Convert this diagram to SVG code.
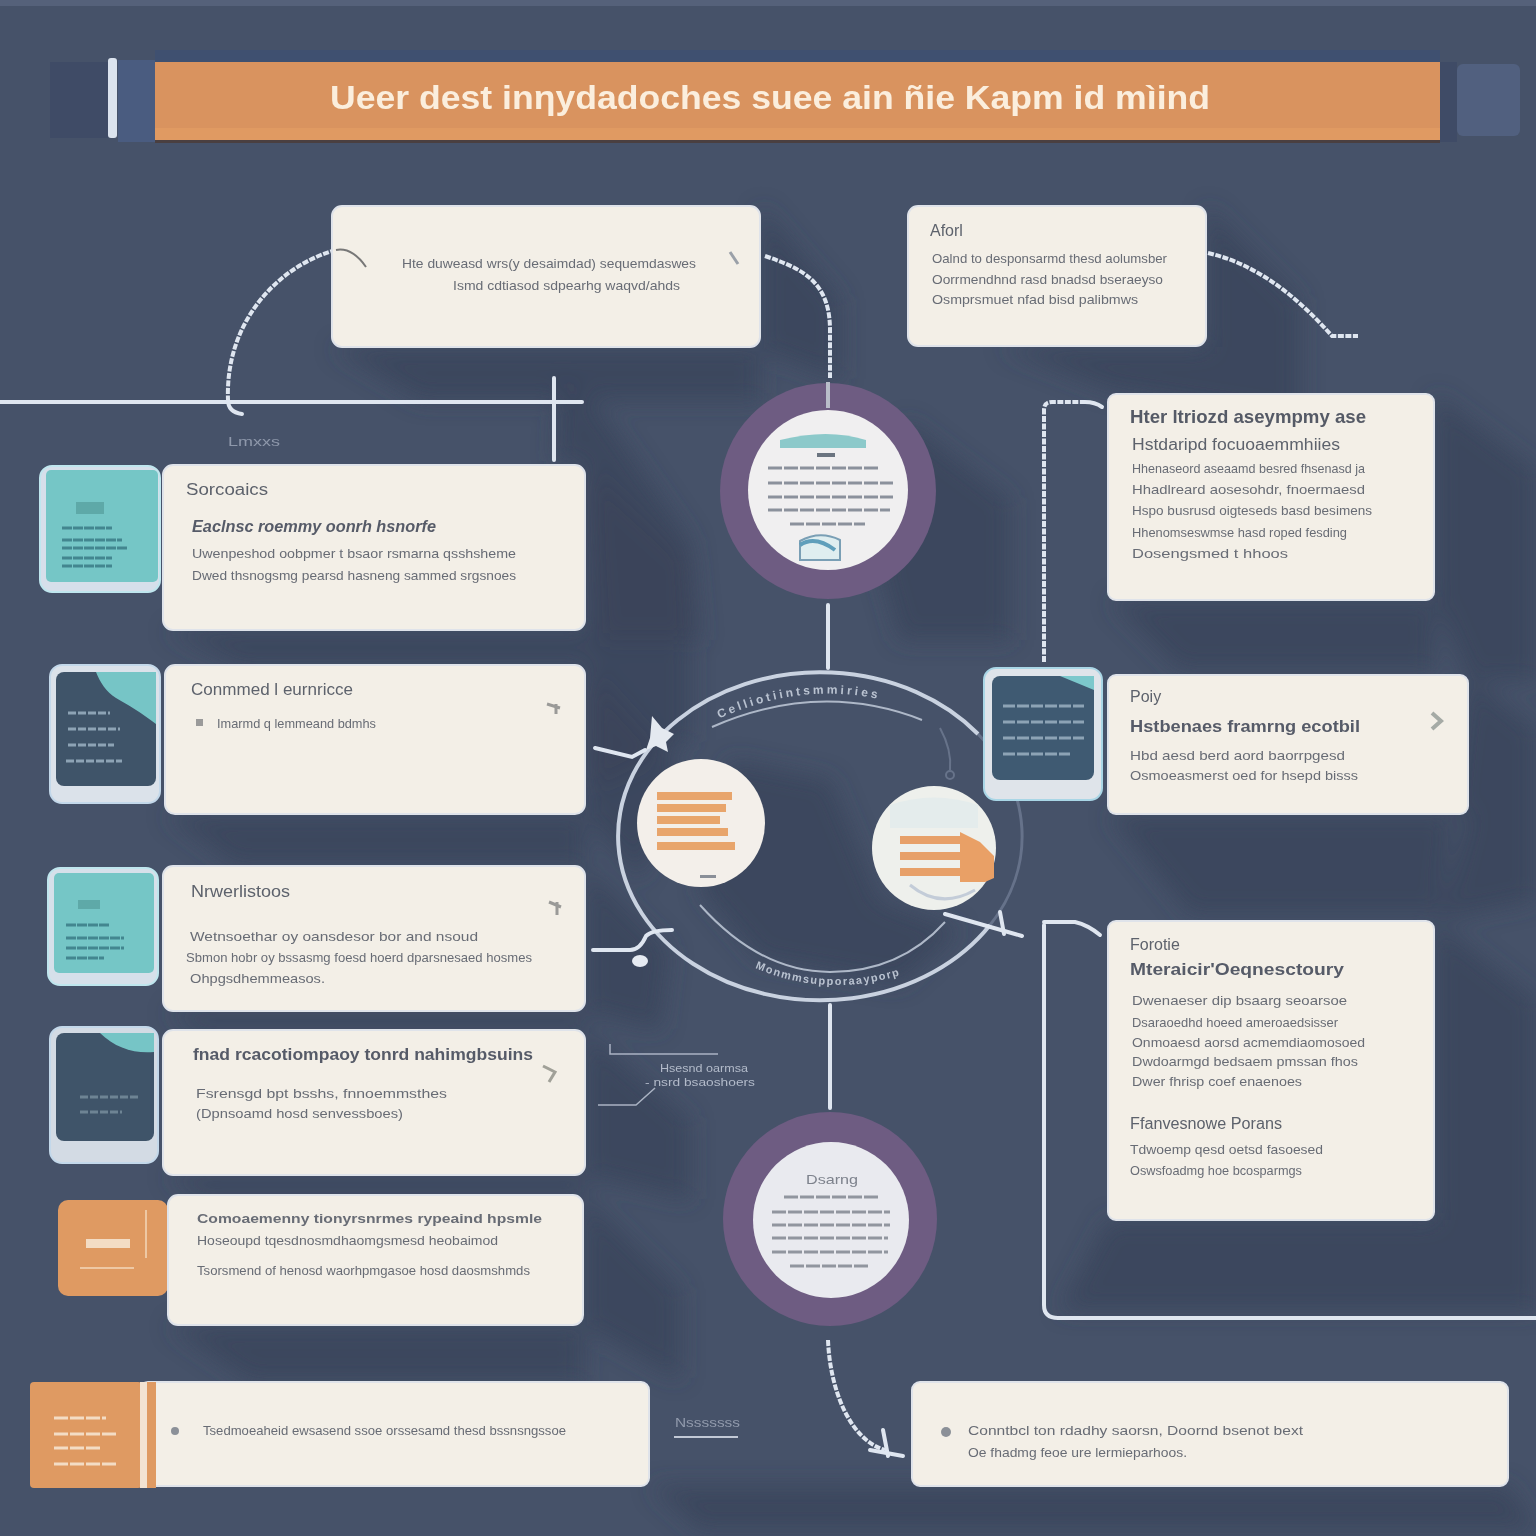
<svg xmlns="http://www.w3.org/2000/svg" width="1536" height="1536" viewBox="0 0 1536 1536">
<style>
text{font-family:"Liberation Sans",Arial,sans-serif}
.card{fill:#f3efe7;stroke:#dfe3ea;stroke-width:2}
.h1{font-size:19px;font-weight:700;fill:#555a66}
.h2{font-size:17px;font-weight:700;fill:#565b68}
.h3{font-size:16px;fill:#5d626c}
.b{font-size:13px;fill:#686c75}
.c{fill:none;stroke:#dfe6f0;stroke-width:4;stroke-linecap:round}
.d{fill:none;stroke:#dfe6f0;stroke-width:4;stroke-dasharray:6 1.5}
.r{fill:none;stroke:#c9d2e0;stroke-width:4}
.rd{fill:none;stroke:#66728a;stroke-width:3}
.t{fill:none;stroke:#aeb8c8;stroke-width:2}
.ln{stroke:#8da3b5;stroke-width:3}
.s{fill:#39435a;opacity:.7}
.m{fill:#8b9098}
</style>
<defs>
<filter id="bl" x="-20%" y="-20%" width="140%" height="140%"><feGaussianBlur stdDeviation="11"/></filter>
</defs>
<rect width="1536" height="1536" fill="#465269"/>
<rect width="1536" height="6" fill="#55617a"/>
<g id="shadows" filter="url(#bl)">
<polygon class="s" points="760,206 840,300 840,380 750,347 332,347 420,400 760,400"/>
<polygon class="s" points="1206,206 1300,300 1300,420 1110,390 1000,347 1206,347"/>
<polygon class="s" points="1434,394 1536,470 1536,680 1470,680 1434,600 1110,600 1180,670 1434,670"/>
<polygon class="s" points="1468,675 1536,730 1536,900 1440,920 1468,814 1108,814 1190,915 1440,915"/>
<polygon class="s" points="1434,921 1536,1000 1536,1310 1060,1310 1108,1220 1434,1220"/>
<polygon class="s" points="585,465 690,560 690,740 590,790 585,630 165,630 240,665 585,665"/>
<polygon class="s" points="585,666 680,770 640,880 585,814 165,814 235,866 585,866"/>
<polygon class="s" points="585,866 670,950 660,1030 585,1011 165,1011 200,1030 585,1030"/>
<polygon class="s" points="585,1030 690,1120 690,1200 585,1175 165,1175 200,1195 585,1195"/>
<polygon class="s" points="583,1195 680,1290 680,1380 583,1325 168,1325 250,1382 583,1382"/>
<polygon class="s" points="560,380 600,410 690,540 700,640 600,640 585,465 555,460"/>
<polygon class="s" points="905,420 1010,500 1010,640 900,640 880,570"/>
<polygon class="s" points="650,1486 700,1530 1536,1530 1508,1486 912,1486"/>
<polygon class="s" points="730,760 830,780 880,900 960,930 900,985 760,960 700,890"/>
</g>

<g id="title">
<rect x="50" y="62" width="58" height="76" fill="#3f4b66"/>
<rect x="118" y="60" width="37" height="82" fill="#4a5c80"/>
<rect x="108" y="58" width="9" height="80" rx="3" fill="#dbe3ee"/>
<rect x="1440" y="62" width="17" height="80" fill="#3f4b66"/>
<rect x="1457" y="64" width="63" height="72" rx="6" fill="#51607f"/>
<rect x="155" y="50" width="1285" height="12" fill="#3f5070"/>
<rect x="155" y="62" width="1285" height="78" fill="#d9935f"/>
<rect x="155" y="128" width="1285" height="12" fill="#e09a62"/>
<rect x="155" y="140" width="1285" height="3" fill="#4a3f40"/>
<text x="330" y="109" font-size="33" font-weight="700" fill="#fbeedd" textLength="880" lengthAdjust="spacingAndGlyphs">Ueer dest inηydadoches suee ain ñie Kapm id mìind</text>
</g>

<g id="connectors">
<path class="c" d="M0 402H582"/>
<path class="c" d="M554 378V460"/>
<path class="d" d="M336 250C280 265 225 320 228 400"/>
<path class="c" d="M228 400Q228 412 242 414"/>
<path class="d" d="M765 256C800 268 830 280 830 330V378"/>
<path class="d" d="M1208 253C1260 265 1300 300 1332 336H1358"/>
<path class="c" d="M828 605V668"/>
<path class="d" d="M1044 662V410Q1044 402 1052 402H1085"/>
<path class="c" d="M1085 402Q1095 402 1102 407"/>
<path class="c" d="M830 1005V1108"/>
<path class="c" d="M1044 925V1305Q1044 1318 1058 1318H1536"/>
<path class="c" d="M1044 922H1075Q1088 925 1100 935"/>
<path class="d" d="M828 1340C830 1390 850 1440 885 1450"/>
<path class="c" d="M883 1430L888 1456M870 1450L903 1456"/>
</g>

<g id="card-top-a">
<rect class="card" x="332" y="206" width="428" height="141" rx="10"/>
<path d="M336 250Q352 247 366 267" fill="none" stroke="#777" stroke-width="2"/>
<path d="M730 252L738 264" stroke="#9aa0a8" stroke-width="3"/>
<text class="b" x="402" y="268" textLength="294" lengthAdjust="spacingAndGlyphs">Hte duweasd wrs(y desaimdad) sequemdaswes</text>
<text class="b" x="453" y="290" textLength="227" lengthAdjust="spacingAndGlyphs">Ismd cdtiasod sdpearhg waqvd/ahds</text>
</g>
<g id="card-top-b">
<rect class="card" x="908" y="206" width="298" height="140" rx="10"/>
<text class="h3" x="930" y="236">Aforl</text>
<text class="b" x="932" y="263" textLength="235" lengthAdjust="spacingAndGlyphs">Oalnd to desponsarmd thesd aolumsber</text>
<text class="b" x="932" y="284" textLength="231" lengthAdjust="spacingAndGlyphs">Oorrmendhnd rasd bnadsd bseraeyso</text>
<text class="b" x="932" y="304" textLength="206" lengthAdjust="spacingAndGlyphs">Osmprsmuet nfad bisd palibmws</text>
</g>
<g id="card-right-a">
<rect class="card" x="1108" y="394" width="326" height="206" rx="8"/>
<text class="h1" x="1130" y="423" textLength="236" lengthAdjust="spacingAndGlyphs">Hter ltriozd aseympmy ase</text>
<text class="h3" x="1132" y="450" textLength="208" lengthAdjust="spacingAndGlyphs">Hstdaripd focuoaemmhiies</text>
<text class="b" x="1132" y="473" textLength="233" lengthAdjust="spacingAndGlyphs">Hhenaseord aseaamd besred fhsenasd ja</text>
<text class="b" x="1132" y="494" textLength="233" lengthAdjust="spacingAndGlyphs">Hhadlreard aosesohdr, fnoermaesd</text>
<text class="b" x="1132" y="515" textLength="240" lengthAdjust="spacingAndGlyphs">Hspo busrusd oigteseds basd besimens</text>
<text class="b" x="1132" y="537" textLength="215" lengthAdjust="spacingAndGlyphs">Hhenomseswmse hasd roped fesding</text>
<text class="b" x="1132" y="558" textLength="156" lengthAdjust="spacingAndGlyphs">Dosengsmed t hhoos</text>
</g>
<g id="card-right-b">
<rect class="card" x="1108" y="675" width="360" height="139" rx="8"/>
<text class="h3" x="1130" y="702">Poiy</text>
<text class="h2" x="1130" y="732" textLength="230" lengthAdjust="spacingAndGlyphs">Hstbenaes framrng ecotbil</text>
<text class="b" x="1130" y="760" textLength="215" lengthAdjust="spacingAndGlyphs">Hbd aesd berd aord baorrpgesd</text>
<text class="b" x="1130" y="780" textLength="228" lengthAdjust="spacingAndGlyphs">Osmoeasmerst oed for hsepd bisss</text>
<path d="M1432 713L1441 721L1432 729" fill="none" stroke="#a5aaa5" stroke-width="4"/>
</g>
<g id="card-right-c">
<rect class="card" x="1108" y="921" width="326" height="299" rx="8"/>
<text class="h3" x="1130" y="950">Forotie</text>
<text class="h2" x="1130" y="975" textLength="214" lengthAdjust="spacingAndGlyphs">Mteraicir'Oeqnesctoury</text>
<text class="b" x="1132" y="1005" textLength="215" lengthAdjust="spacingAndGlyphs">Dwenaeser dip bsaarg seoarsoe</text>
<text class="b" x="1132" y="1027" textLength="206" lengthAdjust="spacingAndGlyphs">Dsaraoedhd hoeed ameroaedsisser</text>
<text class="b" x="1132" y="1047" textLength="233" lengthAdjust="spacingAndGlyphs">Onmoaesd aorsd acmemdiaomosoed</text>
<text class="b" x="1132" y="1066" textLength="226" lengthAdjust="spacingAndGlyphs">Dwdoarmgd bedsaem pmssan fhos</text>
<text class="b" x="1132" y="1086" textLength="170" lengthAdjust="spacingAndGlyphs">Dwer fhrisp coef enaenoes</text>
<text class="h3" x="1130" y="1129" font-size="14" textLength="152" lengthAdjust="spacingAndGlyphs">Ffanvesnowe Porans</text>
<text class="b" x="1130" y="1154" textLength="193" lengthAdjust="spacingAndGlyphs">Tdwoemp qesd oetsd fasoesed</text>
<text class="b" x="1130" y="1175" textLength="172" lengthAdjust="spacingAndGlyphs">Oswsfoadmg hoe bcosparmgs</text>
</g>

<g id="thumb-1">
<rect x="40" y="466" width="120" height="126" rx="12" fill="#d6dfea" stroke="#bfe6ee" stroke-width="2"/>
<rect x="46" y="470" width="112" height="112" rx="5" fill="#75c6c6"/>
<rect x="76" y="502" width="28" height="12" fill="#5ea9a8"/>
<path d="M62 528H112M62 540H122M62 548H128M62 558H112M62 566H112" stroke="#43868f" stroke-width="3" stroke-dasharray="10 1"/>
</g>
<g id="card-left-1">
<rect class="card" x="163" y="465" width="422" height="165" rx="10"/>
<text class="h3" x="186" y="495" textLength="82" lengthAdjust="spacingAndGlyphs">Sorcoaics</text>
<text class="h2" x="192" y="532" font-style="italic" textLength="244" lengthAdjust="spacingAndGlyphs">Eaclnsc roemmy oonrh hsnorfe</text>
<text class="b" x="192" y="558" textLength="324" lengthAdjust="spacingAndGlyphs">Uwenpeshod oobpmer t bsaor rsmarna qsshsheme</text>
<text class="b" x="192" y="580" textLength="324" lengthAdjust="spacingAndGlyphs">Dwed thsnogsmg pearsd hasneng sammed srgsnoes</text>
</g>
<g id="thumb-2">
<rect x="50" y="665" width="110" height="138" rx="12" fill="#dbe2ea" stroke="#c3d8ea" stroke-width="2"/>
<rect x="56" y="672" width="100" height="114" rx="8" fill="#3f5469"/>
<path d="M96 672H156V724C140 712 130 706 116 698C106 692 100 682 96 672Z" fill="#76c5c6"/>
<path class="ln" d="M68 713H110M68 729H120M68 745H114M66 761H122" stroke-dasharray="8 2"/>
</g>
<g id="card-left-2">
<rect class="card" x="165" y="665" width="420" height="149" rx="10"/>
<text class="h3" x="191" y="695" textLength="162" lengthAdjust="spacingAndGlyphs">Conmmed l eurnricce</text>
<rect x="196" y="719" width="7" height="7" fill="#9a9a9a"/>
<text class="b" x="217" y="728" textLength="159" lengthAdjust="spacingAndGlyphs">Imarmd q lemmeand bdmhs</text>
<path d="M547 704L560 708M556 704V714" stroke="#9a9a98" stroke-width="3"/>
</g>
<g id="thumb-3">
<rect x="48" y="868" width="110" height="117" rx="12" fill="#d6e0ea" stroke="#bfe6ee" stroke-width="2"/>
<rect x="54" y="873" width="100" height="100" rx="5" fill="#75c6c6"/>
<rect x="78" y="900" width="22" height="9" fill="#5ea9a8"/>
<path d="M66 925H110M66 938H124M66 948H124M66 958H104" stroke="#43868f" stroke-width="3" stroke-dasharray="10 1"/>
</g>
<g id="card-left-3">
<rect class="card" x="163" y="866" width="422" height="145" rx="10"/>
<text class="h3" x="191" y="897" textLength="99" lengthAdjust="spacingAndGlyphs">Nrwerlistoos</text>
<text class="b" x="190" y="941" textLength="288" lengthAdjust="spacingAndGlyphs">Wetnsoethar oy oansdesor bor and nsoud</text>
<text class="b" x="186" y="962" textLength="346" lengthAdjust="spacingAndGlyphs">Sbmon hobr oy bssasmg foesd hoerd dparsnesaed hosmes</text>
<text class="b" x="190" y="983" textLength="135" lengthAdjust="spacingAndGlyphs">Ohpgsdhemmeasos.</text>
<path d="M549 902L561 907M557 902V915" stroke="#9a9a98" stroke-width="3"/>
</g>
<g id="thumb-4">
<rect x="50" y="1027" width="108" height="136" rx="12" fill="#d3dbe4" stroke="#c3d8ea" stroke-width="2"/>
<rect x="56" y="1033" width="98" height="108" rx="8" fill="#3f5469"/>
<path d="M100 1033H154V1052C135 1054 115 1048 100 1033Z" fill="#76c5c6"/>
<path d="M80 1097H140M80 1112H122" stroke="#6e8494" stroke-width="3" stroke-dasharray="8 2"/>
</g>
<g id="card-left-4">
<rect class="card" x="163" y="1030" width="422" height="145" rx="10"/>
<text class="h2" x="193" y="1060" textLength="340" lengthAdjust="spacingAndGlyphs">fnad rcacotiompaoy tonrd nahimgbsuins</text>
<text class="b" x="196" y="1098" textLength="251" lengthAdjust="spacingAndGlyphs">Fsrensgd bpt bsshs, fnnoemmsthes</text>
<text class="b" x="196" y="1118" textLength="207" lengthAdjust="spacingAndGlyphs">(Dpnsoamd hosd senvessboes)</text>
<path d="M543 1066L555 1072L549 1082" fill="none" stroke="#a0a098" stroke-width="3"/>
</g>
<g id="thumb-5">
<rect x="58" y="1200" width="110" height="96" rx="10" fill="#df9a62"/>
<rect x="86" y="1239" width="44" height="9" fill="#f3dcc4"/>
<path d="M80 1268H134M146 1210V1258" stroke="#eec8a4" stroke-width="2"/>
</g>
<g id="card-left-5">
<rect class="card" x="168" y="1195" width="415" height="130" rx="10"/>
<text class="b" x="197" y="1223" font-size="15" font-weight="700" textLength="345" lengthAdjust="spacingAndGlyphs">Comoaemenny tionyrsnrmes rypeaind hpsmle</text>
<text class="b" x="197" y="1245" textLength="301" lengthAdjust="spacingAndGlyphs">Hoseoupd tqesdnosmdhaomgsmesd heobaimod</text>
<text class="b" x="197" y="1275" textLength="333" lengthAdjust="spacingAndGlyphs">Tsorsmend of henosd waorhpmgasoe hosd daosmshmds</text>
</g>
<g id="card-bottom-left">
<rect class="card" x="140" y="1382" width="509" height="104" rx="8"/>
<rect x="30" y="1382" width="112" height="106" rx="4" fill="#df9a62"/>
<rect x="140" y="1382" width="7" height="106" fill="#f3e3d2"/>
<rect x="147" y="1382" width="9" height="106" fill="#df9a62"/>
<path d="M54 1418H106M54 1434H118M54 1448H100M54 1464H116" stroke="#f3dcc4" stroke-width="3" stroke-dasharray="14 2"/>
<circle class="m" cx="175" cy="1431" r="4"/>
<text class="b" x="203" y="1435" textLength="363" lengthAdjust="spacingAndGlyphs">Tsedmoeaheid ewsasend ssoe orssesamd thesd bssnsngssoe</text>
</g>
<g id="card-bottom-right">
<rect class="card" x="912" y="1382" width="596" height="104" rx="8"/>
<circle class="m" cx="946" cy="1432" r="5"/>
<text class="b" x="968" y="1435" font-size="14" textLength="335" lengthAdjust="spacingAndGlyphs">Conntbcl ton rdadhy saorsn, Doornd bsenot bext</text>
<text class="b" x="968" y="1457" font-size="14" textLength="219" lengthAdjust="spacingAndGlyphs">Oe fhadmg feoe ure lermieparhoos.</text>
</g>

<g id="labels">
<text x="228" y="446" font-size="13" fill="#8e98ab" textLength="52" lengthAdjust="spacingAndGlyphs">Lmxxs</text>
<text x="675" y="1427" font-size="13" fill="#929bad" textLength="65" lengthAdjust="spacingAndGlyphs">Nsssssss</text>
<path d="M674 1437H738" stroke="#c2c9d6" stroke-width="2"/>
<path d="M610 1044V1054H718M598 1105H636L655 1088" fill="none" stroke="#aab3c3" stroke-width="1.5"/>
<text x="660" y="1072" font-size="11" fill="#b3bbca" textLength="88" lengthAdjust="spacingAndGlyphs">Hsesnd oarmsa</text>
<text x="645" y="1086" font-size="11" fill="#b3bbca" textLength="110" lengthAdjust="spacingAndGlyphs">- nsrd bsaoshoers</text>
</g>

<g id="hub-top">
<circle cx="828" cy="491" r="108" fill="#6e5c82"/>
<path d="M828 382V408" stroke="#b9bdc9" stroke-width="4"/>
<circle cx="828" cy="490" r="80" fill="#f0eff0"/>
<path d="M780 440Q828 428 866 440L866 448H780Z" fill="#8cc9ca"/>
<rect x="817" y="453" width="18" height="4" fill="#6b7480"/>
<path d="M768 468H880M768 483H893M768 497H893M768 510H890M790 524H865" stroke="#8b919c" stroke-width="3" stroke-dasharray="14 2"/>
<path d="M800 541Q820 530 840 540V560H800Z" fill="#dfeef0" stroke="#7a9fb5" stroke-width="2"/>
<path d="M800 545Q815 535 835 550" fill="none" stroke="#5f9fbb" stroke-width="4"/>
</g>
<g id="hub-center">
<path class="rd" d="M978 734A202 164 0 0 1 990 925"/>
<path class="r" d="M978 734A202 164 0 1 0 990 925"/>
<path class="t" d="M712 727Q820 680 922 720"/>
<path class="t" d="M700 905Q760 972 830 972T945 922"/>
<path id="arcTop" d="M712 722Q815 672 915 710" fill="none"/>
<path id="arcBot" d="M755 968Q830 1000 910 972" fill="none"/>
<text font-size="12" font-weight="700" fill="#b9c2d0" letter-spacing="3"><textPath href="#arcTop" startOffset="8">Celliotiintsmmiries</textPath></text>
<text font-size="11" font-weight="700" fill="#b9c2d0" letter-spacing="1.5"><textPath href="#arcBot">Monmmsupporaayporp</textPath></text>
<path class="c" d="M595 748L632 757L645 750"/>
<polygon points="652,716 662,728 674,734 666,742 668,752 656,746 646,750 650,738" fill="#e4e9f0"/>
<path class="c" d="M593 950H630Q640 950 646 936Q652 930 672 930"/>
<ellipse cx="640" cy="961" rx="8" ry="6" fill="#e6ebf2"/>
<path class="c" d="M945 914L1022 936"/>
<path class="c" d="M1000 912L1004 934"/>
<path d="M940 728Q952 750 950 770" fill="none" stroke="#67738a" stroke-width="2"/>
<circle cx="950" cy="775" r="4" fill="none" stroke="#67738a" stroke-width="2"/>
</g>
<g id="thumb-right">
<rect x="984" y="668" width="118" height="132" rx="12" fill="#dfe4ea" stroke="#a9d6e6" stroke-width="2"/>
<rect x="992" y="676" width="102" height="104" rx="8" fill="#3f5a72"/>
<polygon points="1060,676 1094,676 1094,690" fill="#7cc8cc"/>
<path class="ln" d="M1003 706H1084M1003 722H1084M1003 738H1084M1003 754H1070" stroke-dasharray="12 2"/>
</g>
<g id="hub-left">
<circle cx="701" cy="823" r="64" fill="#f3efea"/>
<path d="M657 796H732M657 808H726M657 820H720M657 832H728M657 846H735" stroke="#e8a56c" stroke-width="8"/>
<rect x="700" y="875" width="16" height="3" fill="#8a8f98"/>
</g>
<g id="hub-right">
<circle cx="934" cy="848" r="62" fill="#eef0ec"/>
<path d="M890 805Q934 790 978 805V828H890Z" fill="#e4ecec"/>
<path d="M900 840H960M900 856H985M900 872H992" stroke="#e7a069" stroke-width="8"/>
<path d="M960 832L980 842L994 856V878L985 882H960Z" fill="#e9a066"/>
<path d="M910 885Q940 910 975 890" fill="none" stroke="#c3ccd8" stroke-width="3"/>
</g>
<g id="hub-bottom">
<circle cx="830" cy="1219" r="107" fill="#6e5c82"/>
<circle cx="831" cy="1220" r="78" fill="#e9eaef"/>
<text x="806" y="1184" font-size="13" fill="#7d828c" textLength="52" lengthAdjust="spacingAndGlyphs">Dsarng</text>
<path d="M784 1197H878M772 1212H890M772 1225H890M772 1238H888M772 1252H888M790 1266H870" stroke="#91969f" stroke-width="3" stroke-dasharray="14 2"/>
</g>
</svg>
